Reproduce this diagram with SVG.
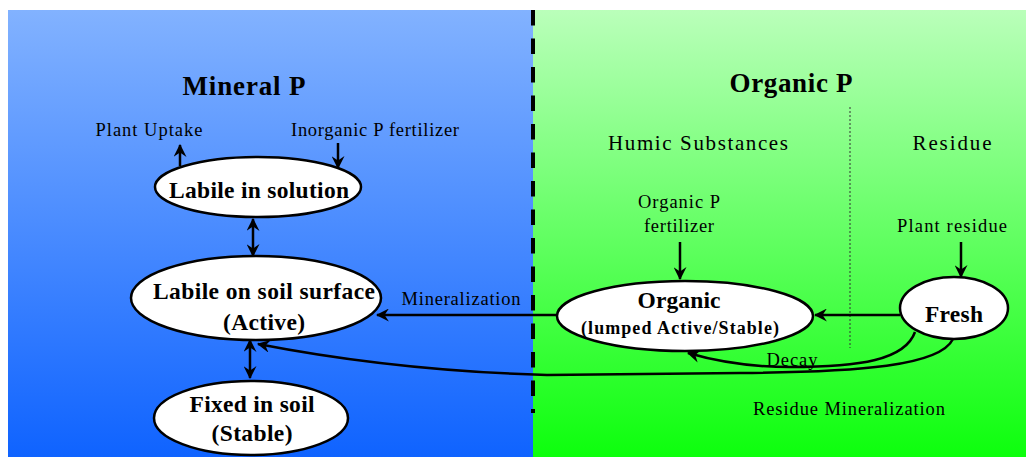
<svg xmlns="http://www.w3.org/2000/svg" width="1030" height="458" viewBox="0 0 1030 458" font-family="Liberation Serif, serif">
<defs>
<linearGradient id="gBlue" x1="0" y1="0" x2="0" y2="1">
<stop offset="0" stop-color="#82B2FF"/>
<stop offset="1" stop-color="#0F63FF"/>
</linearGradient>
<linearGradient id="gGreen" x1="0" y1="0" x2="0" y2="1">
<stop offset="0" stop-color="#BAFFBA"/>
<stop offset="1" stop-color="#0DFF0D"/>
</linearGradient>
<marker id="ah" viewBox="0 0 12 12" refX="11" refY="6" markerWidth="13" markerHeight="13" markerUnits="userSpaceOnUse" orient="auto-start-reverse">
<path d="M0,0 L12,6 L0,12 L4,6 z" fill="#000"/>
</marker>
<style>
text{fill:#000;text-anchor:middle}
.node ellipse{fill:#fff;stroke:#000;stroke-width:2.5}
.nt{font-weight:bold}
.lt{font-size:18.5px}
.tt{font-weight:bold;font-size:27px}
.ht{font-size:21px}
.ca{fill:none;stroke:#000;stroke-width:2.5;marker-end:url(#ah)}
.cd{fill:none;stroke:#000;stroke-width:2.5;marker-start:url(#ah);marker-end:url(#ah)}
</style>
</defs>
<rect x="0" y="0" width="1030" height="458" fill="#fff"/>
<rect id="panel-mineral" x="8" y="10" width="525" height="447" fill="url(#gBlue)"/>
<rect id="panel-organic" x="533" y="10" width="493" height="447" fill="url(#gGreen)"/>
<line x1="533" y1="10" x2="533" y2="413" stroke="#000" stroke-width="4" stroke-dasharray="15.5 13"/>
<line x1="850" y1="107" x2="850" y2="348" stroke="#333" stroke-width="1" stroke-dasharray="2 2"/>

<text class="tt" x="244" y="95" textLength="123" lengthAdjust="spacing">Mineral P</text>
<text class="tt" x="791" y="92" textLength="123" lengthAdjust="spacing">Organic P</text>
<text class="ht" x="698" y="150" textLength="180" lengthAdjust="spacing">Humic Substances</text>
<text class="ht" x="952" y="150" textLength="79" lengthAdjust="spacing">Residue</text>

<g id="connectors">
<line class="ca" x1="180" y1="166" x2="180" y2="145"/>
<line class="ca" x1="338" y1="143" x2="338" y2="168"/>
<line class="cd" x1="253" y1="219" x2="253" y2="256"/>
<line class="cd" x1="250" y1="340" x2="250" y2="378"/>
<line class="ca" x1="557" y1="315" x2="377" y2="315"/>
<line class="ca" x1="900" y1="315" x2="815" y2="315"/>
<line class="ca" x1="680" y1="242" x2="680" y2="279"/>
<line class="ca" x1="961" y1="242" x2="961" y2="277"/>
<path class="ca" d="M915,332 C905,360 860,367 790,367 C750,367 712,360 688,353"/>
<path class="ca" d="M953,339 C940,366 860,372 740,373 L547,375 C440,372 340,360 258,344"/>
</g>

<text class="lt" x="149" y="136" textLength="107" lengthAdjust="spacing">Plant Uptake</text>
<text class="lt" x="375" y="136" textLength="168" lengthAdjust="spacing">Inorganic P fertilizer</text>
<text class="lt" x="461" y="305" textLength="119" lengthAdjust="spacing">Mineralization</text>
<text class="lt" x="679" y="208" textLength="82" lengthAdjust="spacing">Organic P</text>
<text class="lt" x="679" y="232" textLength="70" lengthAdjust="spacing">fertilizer</text>
<text class="lt" x="952" y="232" textLength="110" lengthAdjust="spacing">Plant residue</text>
<text class="lt" x="792" y="366" textLength="51" lengthAdjust="spacing">Decay</text>
<text class="lt" x="849" y="415" textLength="192" lengthAdjust="spacing">Residue Mineralization</text>

<g id="n-solution" class="node">
<ellipse cx="258" cy="187" rx="103" ry="30"/>
<text class="nt" x="259" y="198" font-size="23.5" textLength="180" lengthAdjust="spacing">Labile in solution</text>
</g>
<g id="n-active" class="node">
<ellipse cx="256" cy="298" rx="125" ry="42"/>
<text class="nt" x="264" y="299" font-size="23.5" textLength="222" lengthAdjust="spacing">Labile on soil surface</text>
<text class="nt" x="264" y="330" font-size="23.5" textLength="82" lengthAdjust="spacing">(Active)</text>
</g>
<g id="n-fixed" class="node">
<ellipse cx="251" cy="418" rx="97" ry="37"/>
<text class="nt" x="252" y="412" font-size="23.5" textLength="125" lengthAdjust="spacing">Fixed in soil</text>
<text class="nt" x="252" y="441" font-size="23.5" textLength="81" lengthAdjust="spacing">(Stable)</text>
</g>
<g id="n-organic" class="node">
<ellipse cx="685" cy="316" rx="128" ry="35"/>
<text class="nt" x="679" y="308" font-size="23.5" textLength="83" lengthAdjust="spacing">Organic</text>
<text class="nt" x="680" y="334" font-size="18" textLength="198" lengthAdjust="spacing">(lumped Active/Stable)</text>
</g>
<g id="n-fresh" class="node">
<ellipse cx="954" cy="308" rx="54" ry="31"/>
<text class="nt" x="954" y="322" font-size="23.5" textLength="58" lengthAdjust="spacing">Fresh</text>
</g>
</svg>
